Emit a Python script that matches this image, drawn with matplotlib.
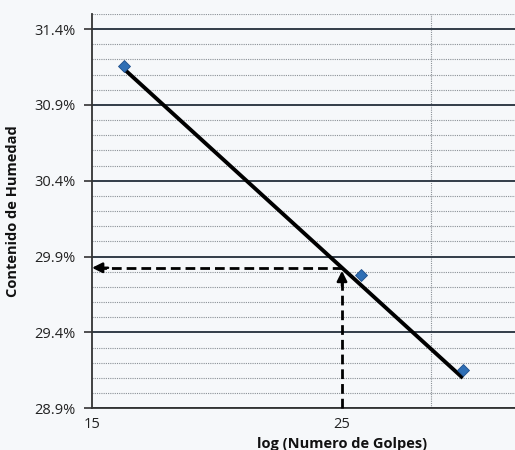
import numpy as np
import matplotlib
matplotlib.use('Agg')
import matplotlib.pyplot as plt
from matplotlib.ticker import FixedLocator, FuncFormatter, NullFormatter, MultipleLocator

# ensayo de limite liquido (Casagrande)
golpes = [16, 26, 32]
humedad = [31.16, 29.78, 29.15]

# linea de tendencia logaritmica, extremos
trend_golpes = [16, 32]
trend_humedad = [31.14, 29.10]

golpes_ref = 25
x_ticks = [15, 25]
x_minor = [30]
y_ticks = [28.9, 29.4, 29.9, 30.4, 30.9, 31.4]

# humedad a 25 golpes sobre la tendencia
lx = np.log(trend_golpes)
wl = np.interp(np.log(golpes_ref), lx, trend_humedad)

plt.rcParams['font.family'] = ['Open Sans', 'DejaVu Sans']

W, H = 515, 450
fig = plt.figure(figsize=(W / 100, H / 100), dpi=100, facecolor='#f6f8fa')
ax = fig.add_axes([92 / W, 1 - 408.3 / H, (W - 92) / W, (408.3 - 14) / H])
ax.set_facecolor('#f6f8fa')

ax.set_xscale('log')
ax.set_xlim(15, 35.6)
ax.set_ylim(28.9, 31.5)

ax.xaxis.set_major_locator(FixedLocator(x_ticks))
ax.xaxis.set_minor_locator(FixedLocator(x_minor))
ax.xaxis.set_major_formatter(FuncFormatter(lambda v, p: '%d' % v))
ax.xaxis.set_minor_formatter(NullFormatter())
ax.yaxis.set_major_locator(FixedLocator(y_ticks))
ax.yaxis.set_minor_locator(MultipleLocator(0.1))
ax.yaxis.set_major_formatter(FuncFormatter(lambda v, p: '%.1f%%' % v))

ax.grid(which='major', axis='y', color='#323c48', lw=1.4, ls='-')
ax.grid(which='minor', axis='y', color='#8a9096', lw=0.8, ls=(0, (1, 1)))
ax.grid(which='minor', axis='x', color='#8a9096', lw=0.8, ls=(0, (1, 1)))
ax.set_axisbelow(True)

for s in ['top', 'right']:
    ax.spines[s].set_visible(False)
for s in ['left', 'bottom']:
    ax.spines[s].set_color('#333333')
    ax.spines[s].set_linewidth(1.3)

ax.tick_params(axis='y', which='major', length=6, width=1.2, color='#333333',
               labelsize=10.5, labelcolor='#222222', pad=6)
ax.tick_params(axis='y', which='minor', length=0)
ax.tick_params(axis='x', which='both', length=0, labelsize=10.5,
               labelcolor='#222222', pad=6)

# tendencia
xt = np.exp(np.linspace(lx[0], lx[1], 50))
yt = np.interp(np.log(xt), lx, trend_humedad)
ax.plot(xt, yt, color='black', lw=2.8, solid_capstyle='butt', zorder=3)

# puntos del ensayo
ax.plot(golpes, humedad, ls='none', marker='D', ms=6.5, color='#2f6fb5',
        markeredgecolor='#1f4f8a', markeredgewidth=0.6, zorder=4)

# lectura a 25 golpes
ax.plot([golpes_ref, 15.3], [wl, wl], color='black', lw=2, ls=(0, (3.5, 1.8)), zorder=3)
ax.plot([golpes_ref, golpes_ref], [28.9, wl - 0.06], color='black', lw=2,
        ls=(0, (3.5, 1.8)), zorder=3, clip_on=False)
ax.annotate('', xy=(15.0, wl), xytext=(15.5, wl),
            arrowprops=dict(arrowstyle='-|>,head_length=0.6,head_width=0.3',
                            color='black', lw=1.8, shrinkA=0, shrinkB=0), zorder=4)
ax.annotate('', xy=(golpes_ref, wl - 0.02), xytext=(golpes_ref, wl - 0.12),
            arrowprops=dict(arrowstyle='-|>,head_length=0.6,head_width=0.3',
                            color='black', lw=1.8, shrinkA=0, shrinkB=0), zorder=4)

ax.set_ylabel('Contenido de Humedad', fontsize=10.5, fontweight='bold', color='#111111')
ax.yaxis.set_label_coords(-0.17, 0.5)
ax.set_xlabel('log (Numero de Golpes)', fontsize=10.5, fontweight='bold', color='#111111')
ax.xaxis.set_label_coords((342 - 92) / (W - 92), -0.072)

fig.savefig('out.png', dpi=100, facecolor=fig.get_facecolor())
